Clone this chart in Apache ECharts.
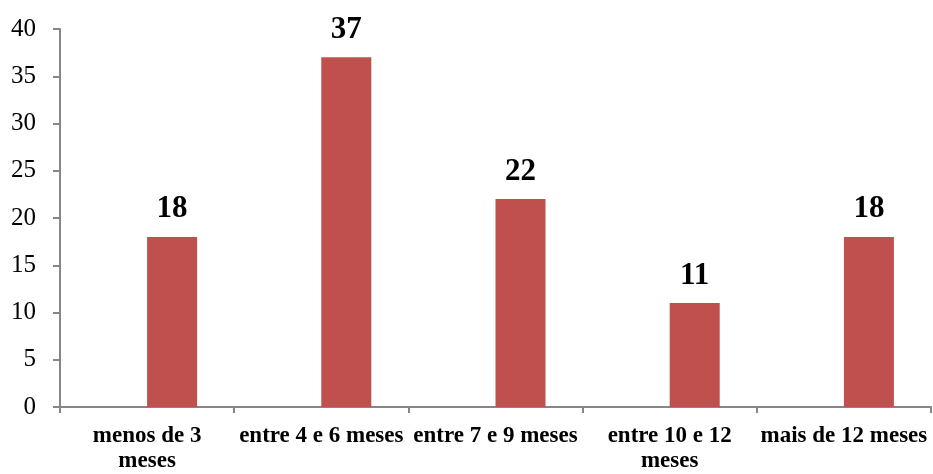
<!DOCTYPE html>
<html>
<head>
<meta charset="utf-8">
<script src="https://cdn.jsdelivr.net/npm/echarts@6/dist/echarts.min.js"></script>
<style>
html,body{margin:0;padding:0;background:#fff;}
#chart{width:933px;height:474px;}
</style>
</head>
<body>
<div id="chart"></div>
<script>
const categories = ['menos de 3\nmeses', 'entre 4 e 6 meses', 'entre 7 e 9 meses', 'entre 10 e 12\nmeses', 'mais de 12 meses'];
const values = [18, 37, 22, 11, 18];
const yTicks = { min: 0, max: 40, interval: 5 };

const serif = '"Liberation Serif", "Times New Roman", serif';
const axisGray = '#868686';

const chart = echarts.init(document.getElementById('chart'));
chart.setOption({
  animation: false,
  grid: { left: 60, right: 2, top: 29, bottom: 66 },
  xAxis: {
    type: 'category',
    data: categories,
    axisLine: { lineStyle: { color: axisGray, width: 2 } },
    axisTick: { show: true, length: 6, lineStyle: { color: axisGray, width: 2 } },
    axisLabel: {
      interval: 0,
      margin: 17,
      color: '#000',
      fontFamily: serif,
      fontWeight: 'bold',
      fontSize: 23,
      lineHeight: 25
    }
  },
  yAxis: {
    type: 'value',
    min: yTicks.min,
    max: yTicks.max,
    interval: yTicks.interval,
    splitLine: { show: false },
    axisLine: { show: true, lineStyle: { color: axisGray, width: 2 } },
    axisTick: { show: true, length: 7, lineStyle: { color: axisGray, width: 2 } },
    axisLabel: { color: '#000', fontFamily: serif, fontSize: 25, margin: 24 }
  },
  series: [
    // empty first slot of the clustered pair
    { type: 'bar', data: [], barWidth: 50, barGap: '0%' },
    {
      type: 'bar',
      data: values,
      barWidth: 50,
      barGap: '0%',
      itemStyle: { color: '#C0504D' },
      label: {
        show: true,
        position: 'top',
        distance: 12,
        color: '#000',
        fontFamily: serif,
        fontWeight: 'bold',
        fontSize: 31
      }
    }
  ]
});
</script>
</body>
</html>
